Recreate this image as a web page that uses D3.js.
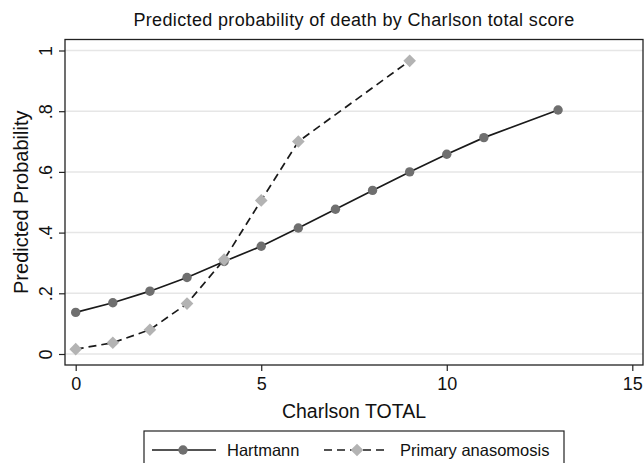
<!DOCTYPE html>
<html>
<head>
<meta charset="utf-8">
<script src="https://cdn.jsdelivr.net/npm/d3@7"></script>
<style>
  html, body { margin: 0; padding: 0; background: #fff; }
  svg { display: block; font-family: "Liberation Sans", Arial, Helvetica, sans-serif; }
</style>
</head>
<body>
<svg id="chart" width="644" height="463"></svg>
<script>
// ---- data ----
const hartmannX = [0, 1, 2, 3, 4, 5, 6, 7, 8, 9, 10, 11, 13];
const hartmannY = [0.137, 0.169, 0.207, 0.252, 0.305, 0.355, 0.415, 0.477, 0.539, 0.600, 0.658, 0.713, 0.804];
const primaryX = [0, 1, 2, 3, 4, 5, 6, 9];
const primaryY = [0.016, 0.037, 0.080, 0.166, 0.311, 0.506, 0.700, 0.966];
const xTicks = [0, 5, 10, 15];
const yTicks = [0, 0.2, 0.4, 0.6, 0.8, 1];
const yTickLabels = ["0", ".2", ".4", ".6", ".8", "1"];
const seriesNames = ["Hartmann", "Primary anasomosis"];
const titleText = "Predicted probability of death by Charlson total score";
const xTitle = "Charlson TOTAL";
const yTitle = "Predicted Probability";

// ---- layout ----
const svg = d3.select("#chart");
const frame = { left: 65, right: 643, top: 39.5, bottom: 365 };
const x = d3.scaleLinear().domain([0, 15]).range([75.7, 632.3]);
const y = d3.scaleLinear().domain([0, 1]).range([354, 50.5]);

svg.append("rect").attr("width", 644).attr("height", 463).attr("fill", "#fff");

// grid
svg.append("g").selectAll("line").data(yTicks).join("line")
  .attr("x1", frame.left).attr("x2", frame.right)
  .attr("y1", d => y(d)).attr("y2", d => y(d))
  .attr("stroke", "#e6e6e6").attr("stroke-width", 1.5);

// frame
svg.append("rect")
  .attr("x", frame.left).attr("y", frame.top)
  .attr("width", frame.right - frame.left).attr("height", frame.bottom - frame.top)
  .attr("fill", "none").attr("stroke", "#222").attr("stroke-width", 1.3);

// x axis
const xAxis = d3.axisBottom(x).tickValues(xTicks).tickSize(6).tickPadding(6).tickFormat(d3.format("d"));
const gx = svg.append("g").attr("transform", `translate(0,${frame.bottom})`).call(xAxis);
gx.select(".domain").remove();
gx.selectAll(".tick line").attr("stroke", "#222").attr("stroke-width", 1.2);
gx.selectAll(".tick text").attr("font-size", 18).attr("fill", "#111")
  .attr("font-family", "Liberation Sans, Arial, sans-serif");

// y axis
const yAxis = d3.axisLeft(y).tickValues(yTicks).tickSize(6)
  .tickFormat((d, i) => yTickLabels[i]);
const gy = svg.append("g").attr("transform", `translate(${frame.left},0)`).call(yAxis);
gy.select(".domain").remove();
gy.selectAll(".tick line").attr("stroke", "#222").attr("stroke-width", 1.2);
gy.selectAll(".tick text")
  .attr("font-size", 18).attr("fill", "#111")
  .attr("font-family", "Liberation Sans, Arial, sans-serif")
  .attr("x", null).attr("dy", null)
  .attr("text-anchor", "middle")
  .attr("transform", "translate(-13,0) rotate(-90)");

// lines
const line = d3.line().x(d => x(d[0])).y(d => y(d[1]));
const hData = hartmannX.map((v, i) => [v, hartmannY[i]]);
const pData = primaryX.map((v, i) => [v, primaryY[i]]);

svg.append("path").datum(hData).attr("d", line)
  .attr("fill", "none").attr("stroke", "#1a1a1a").attr("stroke-width", 1.7);
svg.append("path").datum(pData).attr("d", line)
  .attr("fill", "none").attr("stroke", "#1a1a1a").attr("stroke-width", 1.7)
  .attr("stroke-dasharray", "8,5");

const circleColor = "#6f6f6f";
const diamondColor = "#b3b3b3";
const diamondPath = d3.symbol().type(d3.symbolSquare).size(80);

svg.append("g").selectAll("circle").data(hData).join("circle")
  .attr("cx", d => x(d[0])).attr("cy", d => y(d[1])).attr("r", 4.7)
  .attr("fill", circleColor);

svg.append("g").selectAll("path").data(pData).join("path")
  .attr("d", diamondPath)
  .attr("transform", d => `translate(${x(d[0])},${y(d[1])}) rotate(45)`)
  .attr("fill", diamondColor);

// titles
svg.append("text").attr("x", (frame.left + frame.right) / 2).attr("y", 25.7)
  .attr("text-anchor", "middle").attr("font-size", 18).attr("letter-spacing", 0.35)
  .attr("fill", "#111").text(titleText);

svg.append("text").attr("x", (frame.left + frame.right) / 2).attr("y", 418.3)
  .attr("text-anchor", "middle").attr("font-size", 19.5).attr("fill", "#111").text(xTitle);

svg.append("text")
  .attr("transform", `translate(28.3,${(frame.top + frame.bottom) / 2}) rotate(-90)`)
  .attr("text-anchor", "middle").attr("font-size", 20).attr("fill", "#111").text(yTitle);

// legend
const lg = svg.append("g");
lg.append("rect").attr("x", 144).attr("y", 431).attr("width", 420).attr("height", 45)
  .attr("fill", "#fff").attr("stroke", "#222").attr("stroke-width", 1.2);
const ly = 450;
lg.append("line").attr("x1", 152).attr("x2", 216).attr("y1", ly).attr("y2", ly)
  .attr("stroke", "#1a1a1a").attr("stroke-width", 1.7);
lg.append("circle").attr("cx", 183).attr("cy", ly).attr("r", 4.7).attr("fill", circleColor);
lg.append("text").attr("x", 227).attr("y", ly + 6).attr("font-size", 16.5).attr("fill", "#111").text(seriesNames[0]);
lg.append("line").attr("x1", 324).attr("x2", 389).attr("y1", ly).attr("y2", ly)
  .attr("stroke", "#1a1a1a").attr("stroke-width", 1.7).attr("stroke-dasharray", "8,5");
lg.append("path").attr("d", diamondPath())
  .attr("transform", `translate(357,${ly}) rotate(45)`).attr("fill", diamondColor);
lg.append("text").attr("x", 400).attr("y", ly + 6).attr("font-size", 16.5).attr("fill", "#111").text(seriesNames[1]);
</script>
</body>
</html>
